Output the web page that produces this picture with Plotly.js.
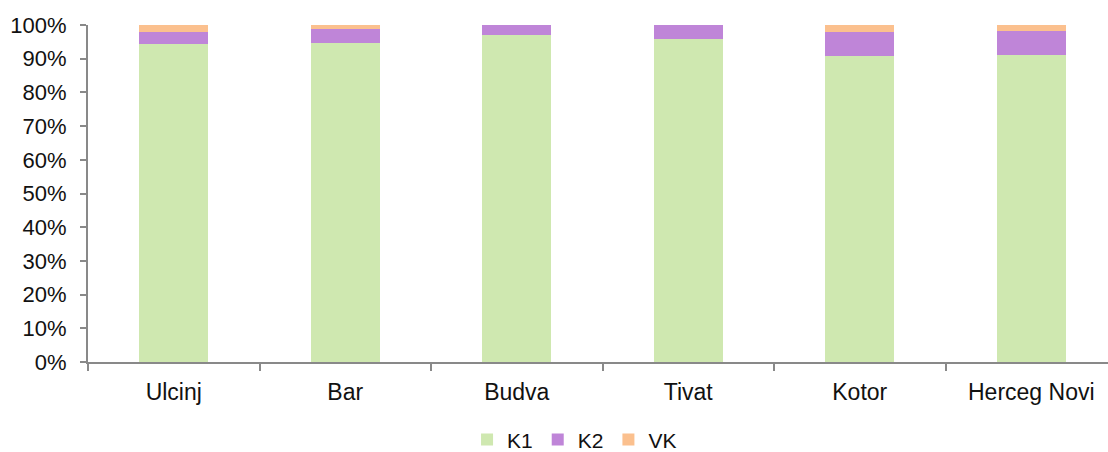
<!DOCTYPE html>
<html>
<head>
<meta charset="utf-8">
<script src="https://cdn.plot.ly/plotly-3.0.1.min.js"></script>
<style>html,body{margin:0;padding:0;background:#fff;}#chart{width:1108px;height:452px;}</style>
</head>
<body>
<div id="chart"></div>
<script>
const categories = ["Ulcinj", "Bar", "Budva", "Tivat", "Kotor", "Herceg Novi"];
const k1 = [94.4, 94.6, 97.1, 95.8, 90.8, 91.1];
const k2 = [3.6, 4.3, 2.9, 4.2, 7.2, 7.2];
const vk = [2.0, 1.1, 0.0, 0.0, 2.0, 1.7];
const seriesNames = ["K1", "K2", "VK"];
const colors = ["#cfe8b0", "#bf85d8", "#fbc08e"];

const vals = [k1, k2, vk];
const traces = vals.map((v, i) => ({
  type: "bar",
  name: seriesNames[i],
  x: categories,
  y: v.map(d => d / 100),
  marker: {color: colors[i]},
  hoverinfo: "skip"
}));

const layout = {
  width: 1108, height: 452,
  barmode: "stack",
  bargap: 0.6,
  margin: {l: 88, r: 0, t: 25, b: 90, autoexpand: false},
  paper_bgcolor: "#fff",
  plot_bgcolor: "#fff",
  font: {family: "Liberation Sans, Arial, sans-serif", size: 22, color: "#111"},
  xaxis: {
    range: [-0.5, 5.4475],
    showline: true, linecolor: "#898989", linewidth: 2,
    ticks: "outside", tickson: "boundaries", ticklen: 7, tickcolor: "#898989", tickwidth: 2,
    showgrid: false, zeroline: false,
    ticklabelstandoff: 8,
    tickfont: {size: 23}
  },
  yaxis: {
    range: [0, 1],
    dtick: 0.1, tickformat: ".0%",
    showline: true, linecolor: "#898989", linewidth: 2,
    ticks: "outside", ticklen: 6, tickcolor: "#898989", tickwidth: 2,
    showgrid: false, zeroline: false,
    ticklabelstandoff: 9,
    tickfont: {size: 22}
  },
  legend: {
    orientation: "h", traceorder: "normal",
    x: 0.477, xanchor: "center", y: -0.231, yanchor: "middle",
    font: {size: 21}, itemwidth: 30, tracegroupgap: 0
  },
  showlegend: true
};

Plotly.newPlot("chart", traces, layout, {staticPlot: true});
</script>
</body>
</html>
